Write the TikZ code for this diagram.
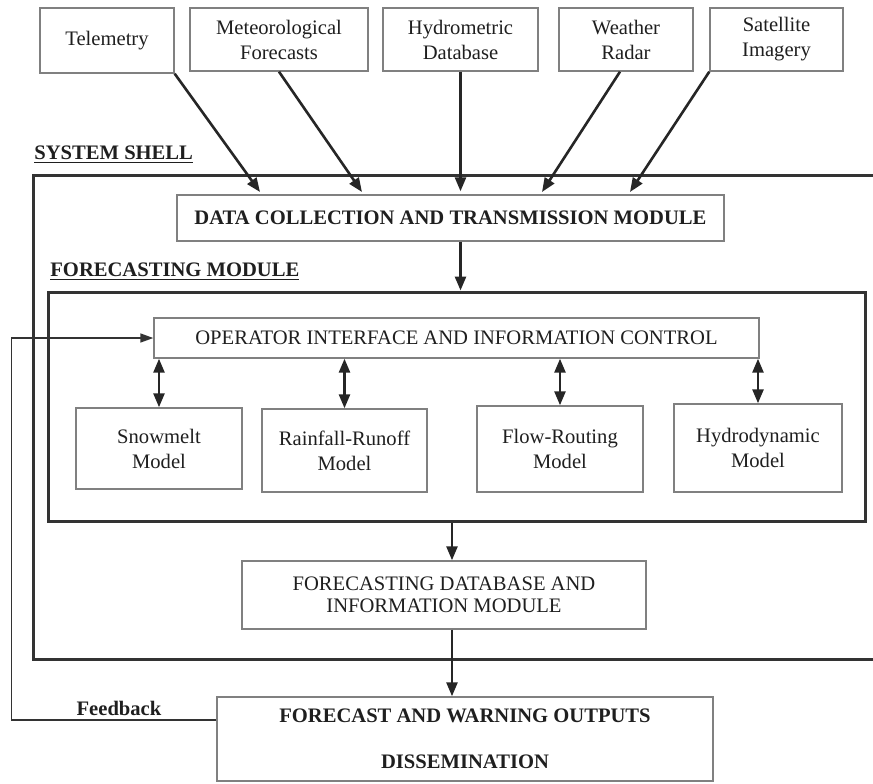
\documentclass[tikz,border=0pt]{standalone}
\usepackage{fontspec}
\setmainfont{Liberation Serif}
\usetikzlibrary{arrows.meta}

\begin{document}
\begin{tikzpicture}[x=0.5pt,y=-0.5pt,
    box/.style={draw=black!50,line width=0.7pt,fill=white,align=center,
      inner sep=0pt,text=black!88,font=\fontsize{10.3}{12.5}\selectfont},
    frame/.style={draw=black!80,line width=1.5pt,inner sep=0pt},
    lbl/.style={anchor=west,inner sep=0pt,text=black!88,
      font=\fontsize{10.3}{12}\selectfont\bfseries},
    flow/.style={-{Triangle[length=7pt,width=5.5pt]},line width=1.3pt,black!85},
    both/.style={{Triangle[length=7pt,width=5.5pt]}-{Triangle[length=7pt,width=5.5pt]},
      line width=1.3pt,black!85}]

  \useasboundingbox[fill=white] (0,0) rectangle (873,783);

  % outer frames
  \node [frame,minimum width=423.5pt,minimum height=242pt] (shell) at (456.5,417) {};
  \node [frame,minimum width=408.5pt,minimum height=114.5pt] (fm) at (456.5,406.5) {};

  \node [lbl] (shelllbl) at (34,155) {\underline{SYSTEM SHELL}};
  \node [lbl] (fmlbl) at (50,272) {\underline{FORECASTING MODULE}};

  % data sources
  \node [box,minimum width=67pt,minimum height=32.5pt] (tele) at (107,40.5) {Telemetry};
  \node [box,minimum width=89pt,minimum height=31.5pt] (met) at (279,39.5)
    {Meteorological\\Forecasts};
  \node [box,minimum width=77.5pt,minimum height=31.5pt] (hyd) at (460.5,39.5)
    {Hydrometric\\Database};
  \node [box,minimum width=67pt,minimum height=31.5pt] (rad) at (626,39.5)
    {Weather\\Radar};
  \node [box,minimum width=66.5pt,minimum height=31.5pt] (sat) at (776.5,39.5)
    {Satellite\\Imagery};

  \node [box,minimum width=273.5pt,minimum height=23pt,font=\fontsize{10.3}{12}\selectfont\bfseries]
    (dctm) at (450.5,218) {DATA COLLECTION AND TRANSMISSION MODULE};

  \coordinate (in1) at (260,192);
  \coordinate (in2) at (362,192);
  \coordinate (in4) at (542,192);
  \coordinate (in5) at (630,192);

  \draw [flow] (tele.south east) -- (in1);
  \draw [flow] (met.south) -- (in2);
  \draw [flow] (hyd.south) -- ([yshift=1.5pt]hyd.south |- dctm.north);
  \draw [flow] ([xshift=-3pt]rad.south) -- (in4);
  \draw [flow] (sat.south west) -- (in5);

  \draw [flow] (dctm.south -| hyd.south) -- (fm.north -| hyd.south);

  % forecasting module
  \node [box,minimum width=302.5pt,minimum height=20pt] (oic) at (456.5,338)
    {OPERATOR INTERFACE AND INFORMATION CONTROL};

  \node [box,minimum width=83pt,minimum height=40.5pt] (snow) at (159,448.5)
    {Snowmelt\\Model};
  \node [box,minimum width=82.5pt,minimum height=41.5pt] (rain) at (344.5,450.5)
    {Rainfall-Runoff\\Model};
  \node [box,minimum width=83pt,minimum height=43pt] (route) at (560,449)
    {Flow-Routing\\Model};
  \node [box,minimum width=84pt,minimum height=44pt] (hydro) at (758,448)
    {Hydrodynamic\\Model};

  \draw [both] (snow.north |- oic.south) -- (snow.north);
  \draw [both] (rain.north |- oic.south) -- (rain.north);
  \draw [both] (route.north |- oic.south) -- (route.north);
  \draw [both] (hydro.north |- oic.south) -- (hydro.north);

  % outputs
  \node [box,minimum width=202pt,minimum height=34pt,font=\fontsize{10.3}{11}\selectfont]
    (fdb) at (444,595) {FORECASTING DATABASE AND\\INFORMATION MODULE};
  \node [box,minimum width=248pt,minimum height=42pt,font=\fontsize{10.3}{11.5}\selectfont\bfseries]
    (fowo) at (465,739) {FORECAST AND WARNING OUTPUTS\\[11.5pt]DISSEMINATION};

  \coordinate (dbin) at ([xshift=4pt]fdb.north);
  \coordinate (dbout) at ([xshift=4pt]fdb.south);
  \draw [flow] (fm.south -| dbin) -- (dbin);
  \draw [flow] (dbout) -- (dbout |- fowo.north);

  % feedback loop
  \node [lbl,anchor=center] (fbk) at (119,708) {Feedback};
  \draw [-{Triangle[length=6.5pt,width=4.5pt]},line width=0.8pt,black!80]
    ([yshift=9.5pt]fowo.west) -- ++(-205,0) |- (oic.west);
\end{tikzpicture}
\end{document}
